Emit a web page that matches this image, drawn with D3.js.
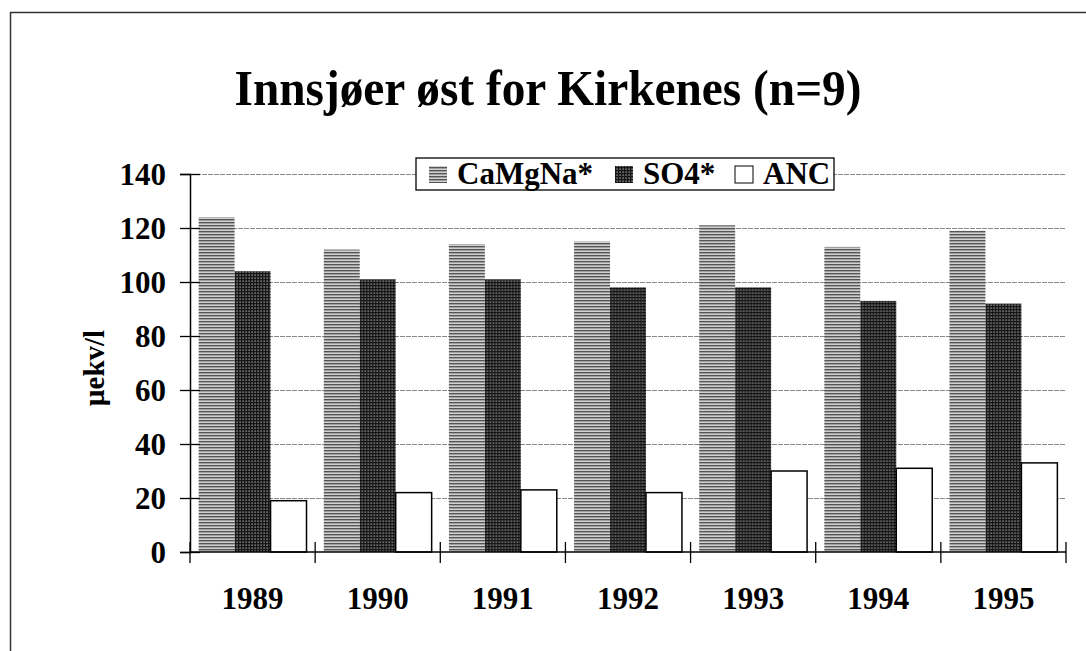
<!DOCTYPE html>
<html>
<head>
<meta charset="utf-8">
<script src="https://cdnjs.cloudflare.com/ajax/libs/d3/7.8.5/d3.min.js"></script>
<style>
  body { margin: 0; background: #fff; }
  svg text { font-family: "Times New Roman", "Liberation Serif", "DejaVu Serif", serif; font-weight: bold; fill: #000; }
</style>
</head>
<body>
<div id="chart"></div>
<script>
var years = ["1989", "1990", "1991", "1992", "1993", "1994", "1995"];
var series = ["CaMgNa*", "SO4*", "ANC"];
var caMgNa = [124, 112, 114, 115, 121, 113, 119];
var so4 = [104, 101, 101, 98, 98, 93, 92];
var anc = [19, 22, 23, 22, 30, 31, 33];
var yTicks = [0, 20, 40, 60, 80, 100, 120, 140];

var width = 1086, height = 651;
var margin = {top: 174, right: 20, bottom: 99, left: 190};

var svg = d3.select("#chart").append("svg")
    .attr("width", width)
    .attr("height", height)
    .attr("font-family", "'Times New Roman', 'Liberation Serif', 'DejaVu Serif', serif");

var defs = svg.append("defs");

// horizontal line hatch for CaMgNa*
var p1 = defs.append("pattern")
    .attr("id", "hatchH")
    .attr("patternUnits", "userSpaceOnUse")
    .attr("width", 4)
    .attr("height", 3);
p1.append("rect").attr("width", 4).attr("height", 3).attr("fill", "#d0d0d0");
p1.append("rect").attr("width", 4).attr("height", 1.4).attr("fill", "#555");

// dark grid hatch for SO4*
var p2 = defs.append("pattern")
    .attr("id", "hatchGrid")
    .attr("patternUnits", "userSpaceOnUse")
    .attr("width", 3)
    .attr("height", 3);
p2.append("rect").attr("width", 3).attr("height", 3).attr("fill", "#6a6a6a");
p2.append("rect").attr("width", 3).attr("height", 1.3).attr("fill", "#161616");
p2.append("rect").attr("width", 1.3).attr("height", 3).attr("fill", "#161616");

var fills = {"CaMgNa*": "url(#hatchH)", "SO4*": "url(#hatchGrid)", "ANC": "#fff"};

// frame (scan is cropped on right/bottom)
svg.append("path")
    .attr("d", "M10.5," + height + "V12.5H" + width)
    .attr("fill", "none")
    .attr("stroke", "#333")
    .attr("stroke-width", 1.5);

var x = d3.scaleBand()
    .domain(years)
    .range([margin.left, width - margin.right]);

var xs = d3.scaleBand()
    .domain(series)
    .range([0, x.bandwidth()])
    .paddingOuter(0.24);

var y = d3.scaleLinear()
    .domain([0, 140])
    .range([height - margin.bottom, margin.top]);

// gridlines
svg.append("g")
    .selectAll("line")
    .data(yTicks.slice(1))
    .enter()
    .append("line")
    .attr("x1", margin.left)
    .attr("x2", width - margin.right)
    .attr("y1", function(d){ return Math.round(y(d)) + 0.5; })
    .attr("y2", function(d){ return Math.round(y(d)) + 0.5; })
    .attr("stroke", "#888")
    .attr("stroke-width", 1)
    .attr("stroke-dasharray", "5,1");

var rows = years.map(function(yr, i){
  return {year: yr, values: [caMgNa[i], so4[i], anc[i]]};
});

var groups = svg.append("g")
    .selectAll("g")
    .data(rows)
    .enter()
    .append("g")
    .attr("transform", function(d){ return "translate(" + x(d.year) + ",0)"; });

groups.selectAll("rect")
    .data(function(d){ return d.values.map(function(v, j){ return {key: series[j], value: v}; }); })
    .enter()
    .append("rect")
    .attr("x", function(d){ return xs(d.key); })
    .attr("y", function(d){ return y(d.value); })
    .attr("width", xs.bandwidth())
    .attr("height", function(d){ return y(0) - y(d.value); })
    .attr("fill", function(d){ return fills[d.key]; })
    .attr("stroke", function(d){ return d.key == "ANC" ? "#000" : "none"; })
    .attr("stroke-width", 1.5);

// y axis
var yAxis = d3.axisLeft(y)
    .tickValues(yTicks)
    .tickSize(10)
    .tickPadding(14);

var gy = svg.append("g")
    .attr("transform", "translate(" + margin.left + ",0)")
    .call(yAxis);
gy.attr("font-family", null).attr("font-size", null);
gy.select(".domain").attr("stroke", "#000").attr("stroke-width", 1.5);
gy.selectAll(".tick line").attr("x2", -10).attr("x1", 10).attr("stroke", "#000").attr("stroke-width", 1.3);
gy.selectAll(".tick text")
    .attr("x", -24)
    .attr("font-size", 31)
    .attr("dy", "0.34em");

// x axis
var gx = svg.append("g")
    .attr("transform", "translate(0," + y(0) + ")");
gx.append("line")
    .attr("x1", margin.left)
    .attr("x2", width - margin.right)
    .attr("stroke", "#000")
    .attr("stroke-width", 1.5);
gx.selectAll(".xtick")
    .data(years.concat(["end"]))
    .enter()
    .append("line")
    .attr("class", "xtick")
    .attr("x1", function(d, i){ return margin.left + i * x.step(); })
    .attr("x2", function(d, i){ return margin.left + i * x.step(); })
    .attr("y1", -10)
    .attr("y2", 11)
    .attr("stroke", "#000")
    .attr("stroke-width", 1.3);
gx.selectAll("text")
    .data(years)
    .enter()
    .append("text")
    .attr("x", function(d){ return x(d) + x.bandwidth() / 2; })
    .attr("y", 57)
    .attr("text-anchor", "middle")
    .attr("font-size", 31)
    .text(function(d){ return d; });

// y label
svg.append("text")
    .attr("transform", "translate(104,368) rotate(-90)")
    .attr("text-anchor", "middle")
    .attr("font-size", 29)
    .text("µekv/l");

// title
svg.append("text")
    .attr("x", 548)
    .attr("y", 105)
    .attr("text-anchor", "middle")
    .attr("font-size", 50)
    .attr("textLength", 627)
    .attr("lengthAdjust", "spacingAndGlyphs")
    .text("Innsjøer øst for Kirkenes (n=9)");

// legend
var legend = svg.append("g")
    .attr("transform", "translate(416,158)");
legend.append("rect")
    .attr("width", 418)
    .attr("height", 32)
    .attr("fill", "#fff")
    .attr("stroke", "#000")
    .attr("stroke-width", 1.3);

var legendX = [13, 199, 319];
var item = legend.selectAll(".item")
    .data(series)
    .enter()
    .append("g")
    .attr("class", "item")
    .attr("transform", function(d, i){ return "translate(" + legendX[i] + ",0)"; });
item.append("rect")
    .attr("y", 8)
    .attr("width", 18)
    .attr("height", 17)
    .attr("fill", function(d){ return fills[d]; })
    .attr("stroke", function(d){ return d == "ANC" ? "#000" : "none"; })
    .attr("stroke-width", 1);
item.append("text")
    .attr("x", 28)
    .attr("y", 26)
    .attr("font-size", 31)
    .text(function(d){ return d; });
</script>
</body>
</html>
